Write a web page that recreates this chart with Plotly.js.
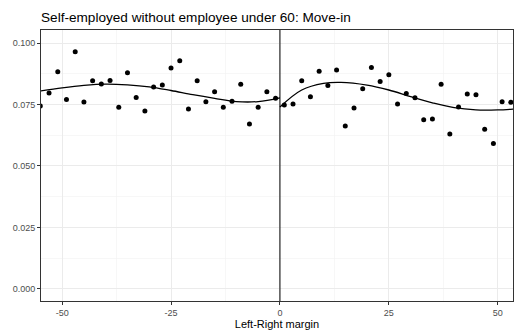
<!DOCTYPE html>
<html>
<head>
<meta charset="utf-8">
<script src="https://cdn.plot.ly/plotly-3.0.1.min.js"></script>
<style>html,body{margin:0;padding:0;background:#fff;}#chart{width:514px;height:331px;}</style>
</head>
<body>
<div id="chart"></div>
<script>
// Binned points, left of cutoff
const leftX = [-55,-53,-51,-49,-47,-45,-43,-41,-39,-37,-35,-33,-31,-29,-27,-25,-23,-21,-19,-17,-15,-13,-11,-9,-7,-5,-3,-1];
const leftY = [0.0744,0.0797,0.0883,0.0770,0.0965,0.0760,0.0847,0.0833,0.0848,0.0739,0.0879,0.0779,0.0724,0.0821,0.0829,0.0898,0.0928,0.0732,0.0847,0.0761,0.0802,0.0739,0.0763,0.0832,0.0671,0.0739,0.0802,0.0775];
// Binned points, right of cutoff
const rightX = [1,3,5,7,9,11,13,15,17,19,21,23,25,27,29,31,33,35,37,39,41,43,45,47,49,51,53];
const rightY = [0.0748,0.0752,0.0847,0.0782,0.0885,0.0827,0.0890,0.0663,0.0736,0.0814,0.0901,0.0844,0.0871,0.0752,0.0795,0.0778,0.0688,0.0691,0.0832,0.0630,0.0740,0.0793,0.0790,0.0649,0.0591,0.0761,0.0759];
// Smooth fit
const fitLeftX = [-55,-50,-45,-40,-35,-30,-25,-20,-15,-10,-5,0];
const fitLeftY = [0.0805,0.0818,0.0828,0.0833,0.0830,0.0822,0.0807,0.0790,0.0775,0.0762,0.0762,0.0777];
const fitRightX = [0,5,10,14,20,25,30,35,40,45,50,54];
const fitRightY = [0.0740,0.0809,0.0836,0.0840,0.0829,0.0809,0.0782,0.0757,0.0737,0.0728,0.0728,0.0732];
const xTicks = [-50,-25,0,25,50];
const xTickText = ['-50','-25','0','25','50'];
const yTicks = [0,0.025,0.05,0.075,0.1];
const yTickText = ['0.000','0.025','0.050','0.075','0.100'];
const titleText = 'Self-employed without employee under 60: Move-in';
const xTitle = 'Left-Right margin';

const pts = {mode:'markers', type:'scatter', marker:{color:'#000', size:5}, hoverinfo:'skip', showlegend:false};
const ln = {mode:'lines', type:'scatter', line:{color:'#000', width:1.3, shape:'spline', smoothing:1}, hoverinfo:'skip', showlegend:false};
const data = [
  Object.assign({x:leftX, y:leftY}, pts),
  Object.assign({x:rightX, y:rightY}, pts),
  Object.assign({x:fitLeftX, y:fitLeftY}, ln),
  Object.assign({x:fitRightX, y:fitRightY}, ln)
];
const axBase = {
  showgrid:true, gridcolor:'#ebebeb', gridwidth:1,
  zeroline:false, showline:true, mirror:true, linecolor:'#333', linewidth:1,
  ticks:'outside', ticklen:3, tickcolor:'#333', tickwidth:1,
  tickfont:{family:'Liberation Sans, Arial, sans-serif', size:9, color:'#4d4d4d'}
};
const layout = {
  width:514, height:331,
  margin:{l:41, r:1, t:30, b:30},
  paper_bgcolor:'#fff', plot_bgcolor:'#fff',
  font:{family:'Liberation Sans, Arial, sans-serif', color:'#000'},
  title:{text:titleText, x:41/514, xanchor:'left', xref:'container', y:1-17/331, yanchor:'middle', yref:'container',
         font:{size:13.6, color:'#000', family:'Liberation Sans, Arial, sans-serif'}},
  xaxis:Object.assign({}, axBase, {range:[-54.85,53.5], tickvals:xTicks, ticktext:xTickText,
    minor:{showgrid:true, gridcolor:'#f2f2f2', gridwidth:0.6, tickvals:[-37.5,-12.5,12.5,37.5]},
    title:{text:xTitle, font:{size:11, color:'#000'}, standoff:3}}),
  yaxis:Object.assign({}, axBase, {range:[-0.0049,0.1053], tickvals:yTicks, ticktext:yTickText,
    minor:{showgrid:true, gridcolor:'#f2f2f2', gridwidth:0.6, tickvals:[0.0125,0.0375,0.0625,0.0875]}}),
  shapes:[{type:'line', xref:'x', yref:'paper', x0:0, x1:0, y0:0, y1:1, line:{color:'#000', width:1}}]
};
Plotly.newPlot('chart', data, layout, {staticPlot:true, displayModeBar:false});
</script>
</body>
</html>
